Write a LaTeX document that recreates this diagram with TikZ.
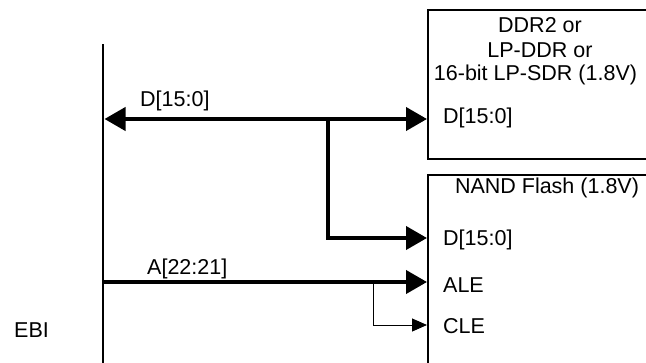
\documentclass[tikz,border=0pt]{standalone}
\usepackage{fontspec}
\setmainfont{Liberation Sans}
\usetikzlibrary{arrows.meta}
\begin{document}
\begin{tikzpicture}[x=1pt,y=-1pt,
  lbl/.style={inner sep=0pt, font=\fontsize{21.5}{25}\selectfont},
  boxstyle/.style={draw, line width=2pt, rectangle, inner sep=0pt, anchor=north west},
  busline/.style={line width=2pt},
  thickbus/.style={line width=4pt},
  bigtip/.style={-{Triangle[length=21pt,width=23pt]}},
  thinsig/.style={line width=1pt, -{Triangle[length=15pt,width=13pt]}}
]
\clip (0,0) rectangle (646,362);
\fill[white] (0,0) rectangle (646,362);
% boxes
\node[boxstyle, minimum width=273pt, minimum height=149pt] (ddr) at (427,9) {};
\node[boxstyle, minimum width=273pt, minimum height=230pt] (nand) at (427,174) {};
% box texts
\node[lbl] (t1) at (540,25) {DDR2 or};
\node[lbl] (t2) at (540,50) {LP-DDR or};
\node[lbl] (t3) at (535.5,75) {16-bit LP-SDR (1.8V)};
\node[lbl, anchor=west] (dq1) at (443,118) {D[15:0]};
\node[lbl] (t4) at (547,188) {NAND Flash (1.8V)};
\node[lbl, anchor=west] (dq2) at (443,240) {D[15:0]};
\node[lbl, anchor=west] (ale) at (443,285) {ALE};
\node[lbl, anchor=west] (cle) at (443,326) {CLE};
% bus
\coordinate (bustop) at (103,44);
\coordinate (busbot) at (103,370);
\draw[busline] (bustop) -- (busbot);
\node[lbl, anchor=west] (ebi) at (14,330) {EBI};
% data bus
\coordinate (dl) at (104.5,119);
\coordinate (dr) at (ddr.west |- dl);
\coordinate (dbr) at (328,119);
\coordinate (d2) at (nand.west |- 0,238);
\draw[thickbus, {Triangle[length=21pt,width=23pt]}-{Triangle[length=21pt,width=23pt]}] (dl) -- (dr);
\draw[thickbus, bigtip] (dbr) |- (d2);
\node[lbl, anchor=west] (dlab) at (140,101) {D[15:0]};
% address
\coordinate (al) at (103,282);
\coordinate (ar) at (nand.west |- al);
\draw[thickbus, bigtip] (al) -- (ar);
\node[lbl, anchor=west] (alab) at (147,269) {A[22:21]};
\coordinate (abr) at (373,282);
\coordinate (cr) at (nand.west |- 0,325);
\draw[thinsig] (abr) |- (cr);
\end{tikzpicture}
\end{document}
